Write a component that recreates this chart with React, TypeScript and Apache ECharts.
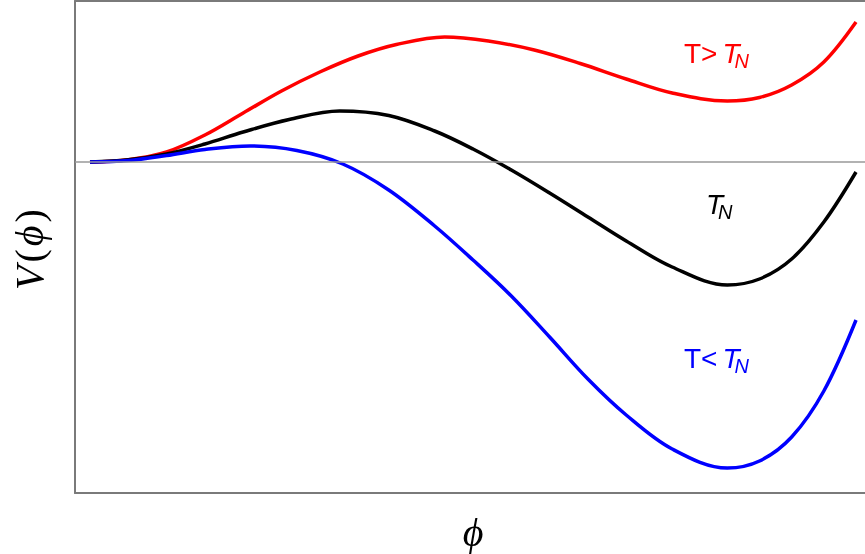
import React, { useEffect, useRef } from "react";
import * as echarts from "echarts";

// T > T_N
const phiAbove = [0, 0.05, 0.1, 0.15, 0.2, 0.25, 0.3, 0.35, 0.4, 0.463, 0.52, 0.58, 0.64, 0.7, 0.76, 0.832, 0.874, 0.916, 0.958, 1.0];
const vAbove = [0, 0.022, 0.1, 0.27, 0.49, 0.71, 0.9, 1.06, 1.175, 1.25, 1.21, 1.12, 0.985, 0.83, 0.69, 0.61, 0.645, 0.77, 1.0, 1.4];
// T = T_N
const phiCritical = [0, 0.05, 0.1, 0.15, 0.2, 0.26, 0.326, 0.39, 0.45, 0.5, 0.55, 0.6, 0.65, 0.7, 0.76, 0.832, 0.874, 0.916, 0.958, 1.0];
const vCritical = [0, 0.022, 0.08, 0.18, 0.3, 0.425, 0.51, 0.465, 0.31, 0.13, -0.08, -0.31, -0.55, -0.79, -1.05, -1.23, -1.17, -0.97, -0.6, -0.1];
// T < T_N
const phiBelow = [0, 0.05, 0.1, 0.15, 0.209, 0.27, 0.33, 0.39, 0.45, 0.5, 0.55, 0.6, 0.65, 0.7, 0.76, 0.832, 0.874, 0.916, 0.958, 1.0];
const vBelow = [0, 0.015, 0.065, 0.125, 0.16, 0.115, -0.02, -0.28, -0.64, -0.98, -1.34, -1.75, -2.17, -2.53, -2.87, -3.06, -2.99, -2.75, -2.29, -1.58];

const X_MIN = -0.01956;
const X_MAX = 1.01173;
const Y_MIN = -3.31;
const Y_MAX = 1.61;

const zip = (xs: number[], ys: number[]) => xs.map((p, i) => [p, ys[i]]);

export default function App() {
  const ref = useRef<HTMLDivElement>(null);
  useEffect(() => {
    if (!ref.current) return;
    const chart = echarts.init(ref.current, null, { renderer: "svg" });
    const frame = { show: true, onZero: false, lineStyle: { color: "#7a7a7a", width: 2 } };
    const sans = "'Liberation Sans', Arial, sans-serif";
    const serif = "'Liberation Serif', 'DejaVu Serif', 'Times New Roman', serif";
    const label = (x: number, top: number, pre: string, color: string) => ({
      type: "text",
      x,
      y: top,
      style: {
        text: (pre ? `{a|${pre}}` : "") + "{b|T}{c|N}",
        align: "left",
        verticalAlign: "top",
        rich: {
          a: { fontFamily: sans, fontSize: 28, fill: color },
          b: { fontFamily: sans, fontStyle: "italic", fontSize: 28, fill: color, width: 12, padding: [0, 0, 0, pre ? 5 : 0] },
          c: { fontFamily: sans, fontStyle: "italic", fontSize: 20, fill: color, padding: [16, 0, 0, 0] },
        },
      },
    });
    const line = (name: string, xs: number[], ys: number[], color: string, extra: any = {}) => ({
      type: "line", name, data: zip(xs, ys), smooth: 0.35, showSymbol: false,
      lineStyle: { color, width: 3.5 }, ...extra,
    });
    chart.setOption({
      animation: false,
      grid: { left: 75, right: -1, top: 1, bottom: 61 },
      xAxis: [
        { type: "value", min: X_MIN, max: X_MAX, position: "bottom", axisLine: frame, axisTick: { show: false }, axisLabel: { show: false }, splitLine: { show: false } },
        { type: "value", min: X_MIN, max: X_MAX, position: "top", axisLine: frame, axisTick: { show: false }, axisLabel: { show: false }, splitLine: { show: false } },
      ],
      yAxis: { type: "value", min: Y_MIN, max: Y_MAX, axisLine: frame, axisTick: { show: false }, axisLabel: { show: false }, splitLine: { show: false } },
      series: [
        line("T>T_N", phiAbove, vAbove, "#ff0000", {
          markLine: {
            silent: true, symbol: "none", label: { show: false },
            lineStyle: { color: "#999999", width: 1.5, type: "solid" },
            data: [{ yAxis: 0 }],
          },
        }),
        line("T_N", phiCritical, vCritical, "#000000"),
        line("T<T_N", phiBelow, vBelow, "#0000ff"),
      ],
      graphic: [
        label(684, 35, "T>", "#ff0000"),
        label(706, 186, "", "#000000"),
        label(684, 340, "T<", "#0000ff"),
        {
          type: "text", x: 29, y: 248, rotation: Math.PI / 2,
          style: {
            text: "{i|V}{r|(}{i|ϕ}{r|)}",
            align: "center", verticalAlign: "middle",
            rich: {
              i: { fontFamily: serif, fontStyle: "italic", fontSize: 40, fill: "#000" },
              r: { fontFamily: serif, fontSize: 40, fill: "#000", padding: [0, 3, 0, 3] },
            },
          },
        },
        {
          type: "text", x: 473, y: 532,
          style: { text: "ϕ", fontFamily: serif, fontStyle: "italic", fontSize: 40, fill: "#000", align: "center", verticalAlign: "middle" },
        },
      ],
    });
    return () => chart.dispose();
  }, []);
  return <div ref={ref} style={{ position: "fixed", left: 0, top: 0, width: 865, height: 554 }} />;
}
